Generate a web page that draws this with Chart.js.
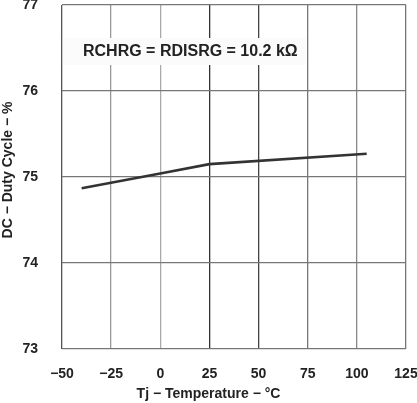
<!DOCTYPE html>
<html><head><meta charset="utf-8">
<script src="https://cdn.jsdelivr.net/npm/chart.js@4/dist/chart.umd.min.js"></script>
<style>html,body{margin:0;padding:0;background:#fff;}canvas{display:block;}</style>
</head><body><canvas id="c" width="417" height="403"></canvas>
<script>
const temperatures = [-40, 0, 25, 105];
const dutyCycle = [74.87, 75.04, 75.15, 75.27];
const xTicks = [-50, -25, 0, 25, 50, 75, 100, 125];
const yTicks = [73, 74, 75, 76, 77];
const xGridColors = ['#555', '#999', '#aaa', '#333', '#444', '#777', '#888', '#777'];
const annotationText = 'RCHRG = RDISRG = 10.2 k\u03A9';
const xTitle = 'Tj \u2212 Temperature \u2212 \u00B0C';
const yTitle = 'DC \u2212 Duty Cycle \u2212 %';

const FONT = '"Liberation Sans", Arial, sans-serif';
const fmt = v => v < 0 ? '\u2212' + Math.abs(v) : String(v);

const annotationPlugin = {
  id: 'note',
  beforeDatasetsDraw(chart) {
    const ctx = chart.ctx, a = chart.chartArea;
    ctx.save();
    ctx.fillStyle = '#fbfbfb';
    ctx.fillRect(a.left + 1, 38, 243, 27);
    ctx.fillStyle = '#222';
    ctx.font = 'bold 16px ' + FONT;
    ctx.textBaseline = 'middle';
    ctx.textAlign = 'left';
    ctx.fillText(annotationText, 83, 51.5);
    ctx.restore();
  },
  afterDraw(chart) {
    const ctx = chart.ctx;
    ctx.save();
    ctx.fillStyle = '#222';
    ctx.font = 'bold 14px ' + FONT;
    ctx.textAlign = 'center';
    ctx.textBaseline = 'alphabetic';
    ctx.fillText(xTitle, chart.width / 2, 398);
    ctx.translate(11.5, 170);
    ctx.rotate(-Math.PI / 2);
    ctx.fillText(yTitle, 0, 0);
    ctx.restore();
  }
};

new Chart(document.getElementById('c'), {
  type: 'line',
  data: {
    datasets: [{
      data: temperatures.map((t, i) => ({ x: t, y: dutyCycle[i] })),
      borderColor: '#333',
      borderWidth: 2.6,
      pointRadius: 0,
      tension: 0,
      fill: false
    }]
  },
  options: {
    responsive: false,
    animation: false,
    devicePixelRatio: 1,
    layout: { padding: { top: 5, right: 11, left: 0, bottom: 0 } },
    plugins: { legend: { display: false }, tooltip: { enabled: false } },
    scales: {
      x: {
        type: 'linear', min: -50, max: 125,
        afterBuildTicks: s => { s.ticks = xTicks.map(v => ({ value: v })); },
        afterFit: s => { s.height = 54; s.paddingLeft = 0; s.paddingRight = 0; s.paddingTop = 0; s.paddingBottom = 0; },
        border: { display: false },
        grid: { drawTicks: false, color: c => xGridColors[c.index] || '#777', lineWidth: 1.3 },
        ticks: { padding: 17, color: '#222', font: { family: FONT, size: 14, weight: 'bold' }, callback: v => fmt(v), maxRotation: 0, minRotation: 0, autoSkip: false },
        title: { display: false }
      },
      y: {
        type: 'linear', min: 73, max: 77,
        afterBuildTicks: s => { s.ticks = yTicks.map(v => ({ value: v })); },
        afterFit: s => { s.width = 62; s.paddingTop = 0; s.paddingBottom = 0; s.paddingLeft = 0; s.paddingRight = 0; },
        border: { display: false },
        grid: { drawTicks: false, color: '#777', lineWidth: 1.2 },
        ticks: { padding: 24, color: '#222', font: { family: FONT, size: 14, weight: 'bold' }, callback: v => fmt(v) },
        title: { display: false }
      }
    }
  },
  plugins: [annotationPlugin]
});
</script>
</body></html>
